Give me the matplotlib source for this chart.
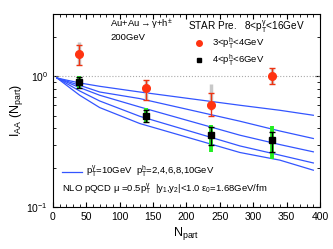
import numpy as np
import matplotlib
matplotlib.use("Agg")
import matplotlib.pyplot as plt
from matplotlib.ticker import MultipleLocator, LogLocator, NullFormatter

plt.rcParams['font.family'] = ['Liberation Sans', 'DejaVu Sans']
plt.rcParams['mathtext.fontset'] = 'custom'
plt.rcParams['mathtext.rm'] = 'Liberation Sans'
plt.rcParams['mathtext.it'] = 'Liberation Sans'
plt.rcParams['mathtext.sf'] = 'Liberation Sans'

# STAR preliminary, 3<pT^h<4 GeV (red)
npart_red = [39, 140, 236, 328]
iaa_red = [1.47, 0.81, 0.607, 1.0]
red_lo = [1.23, 0.66, 0.50, 0.88]
red_hi = [1.75, 0.94, 0.74, 1.15]
red_sys_lo = [1.22, 0.66, 0.55, 0.88]
red_sys_hi = [1.82, 0.94, 0.87, 1.15]

# STAR preliminary, 4<pT^h<6 GeV (black)
npart_blk = [39, 140, 236, 328]
iaa_blk = [0.90, 0.50, 0.354, 0.324]
blk_lo = [0.82, 0.45, 0.296, 0.264]
blk_hi = [0.99, 0.556, 0.41, 0.375]
blk_sys_lo = [0.80, 0.44, 0.264, 0.232]
blk_sys_hi = [1.0, 0.57, 0.42, 0.415]

# NLO pQCD curves, pT^h = 2,4,6,8,10 GeV
npart_th = [6, 40, 70, 130, 280, 340, 390]
iaa_th = [
    [0.97, 0.889, 0.838, 0.758, 0.600, 0.549, 0.503],
    [0.97, 0.853, 0.758, 0.675, 0.453, 0.381, 0.334],
    [0.97, 0.819, 0.716, 0.582, 0.354, 0.300, 0.264],
    [0.97, 0.772, 0.647, 0.494, 0.293, 0.249, 0.217],
    [0.97, 0.716, 0.576, 0.435, 0.261, 0.228, 0.191],
]

fig = plt.figure(figsize=(3.33, 2.49), dpi=100)
ax = fig.add_axes([0.159, 0.169, 0.802, 0.775])

ax.axhline(1.0, color='#aaaaaa', ls=':', lw=0.8)

for curve in iaa_th:
    ax.plot(npart_th, curve, color='#3355ff', lw=0.9)

# systematic bars
ax.vlines(npart_red, red_sys_lo, red_sys_hi, color='#c8c8c8', lw=2.5)
ax.vlines(npart_blk, blk_sys_lo, blk_sys_hi, color='#22ee22', lw=2.8)

r = np.array(iaa_red)
ax.errorbar(npart_red, r, yerr=[r - np.array(red_lo), np.array(red_hi) - r],
            fmt='o', color='#ff3311', ecolor='#ee3311', ms=5.5, capsize=2, elinewidth=1)
b = np.array(iaa_blk)
ax.errorbar(npart_blk, b, yerr=[b - np.array(blk_lo), np.array(blk_hi) - b],
            fmt='s', color='black', ms=5, capsize=2, elinewidth=1)

ax.set_yscale('log')
ax.set_xlim(0, 400)
ax.set_ylim(0.1, 3.0)
ax.xaxis.set_major_locator(MultipleLocator(50))
ax.xaxis.set_minor_locator(MultipleLocator(10))
ax.yaxis.set_major_locator(LogLocator(base=10))
ax.yaxis.set_minor_locator(LogLocator(base=10, subs=np.arange(2, 10)))
ax.yaxis.set_minor_formatter(NullFormatter())
ax.tick_params(which='both', direction='in', top=True, right=True, labelsize=7.5)
ax.tick_params(which='major', length=3.5)
ax.tick_params(which='minor', length=2)

ax.set_xlabel(r'N$_{\mathrm{part}}$', fontsize=9, labelpad=2)
ax.set_ylabel(r'I$_{\mathrm{AA}}$ (N$_{\mathrm{part}}$)', fontsize=9, labelpad=1)

fs = 6.8
ax.text(0.215, 0.943, r'Au+Au$\rightarrow\gamma$+h$^{\pm}$', transform=ax.transAxes, fontsize=fs, va='center')
ax.text(0.215, 0.876, '200GeV', transform=ax.transAxes, fontsize=fs, va='center')
ax.text(0.505, 0.933, r'STAR Pre.   8<p$_{\mathrm{T}}^{\gamma}$<16GeV', transform=ax.transAxes, fontsize=7.2, va='center')
ax.plot([0.547], [0.848], 'o', color='#ff3311', ms=4, transform=ax.transAxes)
ax.text(0.595, 0.848, r'3<p$_{\mathrm{T}}^{\mathrm{h}}$<4GeV', transform=ax.transAxes, fontsize=fs, va='center')
ax.plot([0.547], [0.76], 's', color='black', ms=3.5, transform=ax.transAxes)
ax.text(0.595, 0.76, r'4<p$_{\mathrm{T}}^{\mathrm{h}}$<6GeV', transform=ax.transAxes, fontsize=fs, va='center')

ax.plot([0.034, 0.109], [0.183, 0.183], color='#3355ff', lw=0.9, transform=ax.transAxes)
ax.text(0.124, 0.183, r'p$_{\mathrm{T}}^{\gamma}$=10GeV  p$_{\mathrm{T}}^{\mathrm{h}}$=2,4,6,8,10GeV',
        transform=ax.transAxes, fontsize=fs, va='center')
ax.text(0.034, 0.09, r'NLO pQCD $\mu$ =0.5p$_{\mathrm{T}}^{\gamma}$  |y$_1$,y$_2$|<1.0 $\epsilon_0$=1.68GeV/fm',
        transform=ax.transAxes, fontsize=fs, va='center')

fig.savefig('out.png', dpi=100)
